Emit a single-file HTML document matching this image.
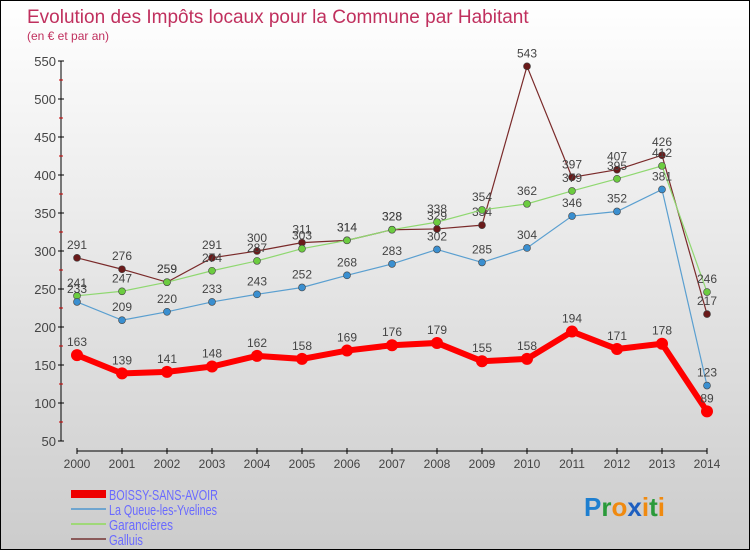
<!DOCTYPE html>
<html><head><meta charset="utf-8"><style>
body{margin:0}
#c{width:748px;height:548px;border:1px solid #000;background:linear-gradient(#fff,#ccc);position:relative;overflow:hidden;font-family:"Liberation Sans",sans-serif}
</style></head><body>
<div id="c">
<svg id="s" width="748" height="548" style="position:absolute;left:0;top:0">
<text x="26" y="22" font-size="19" fill="#c0305e">Evolution des Impôts locaux pour la Commune par Habitant</text>
<text x="26" y="39" font-size="12" fill="#c0305e">(en € et par an)</text>
<g id="axes"></g><g id="series"></g>
<g font-size="15" fill="#6a6aff">
<rect x="70" y="489" width="35" height="8" fill="#e00"/>
<text x="108" y="499" textLength="109" lengthAdjust="spacingAndGlyphs">BOISSY-SANS-AVOIR</text>
<rect x="70" y="507" width="35" height="2" fill="#6fa5cf"/>
<text x="108" y="514" textLength="108" lengthAdjust="spacingAndGlyphs">La Queue-les-Yvelines</text>
<rect x="70" y="522" width="35" height="2" fill="#9fd878"/>
<text x="108" y="529" textLength="64" lengthAdjust="spacingAndGlyphs">Garancières</text>
<rect x="70" y="537" width="35" height="2" fill="#8a5a5a"/>
<text x="108" y="544" textLength="34" lengthAdjust="spacingAndGlyphs">Galluis</text>
</g>
<text x="583" y="515" font-size="26" font-weight="bold"><tspan fill="#1e7fd0">P</tspan><tspan fill="#2a9a3a">r</tspan><tspan fill="#f08a10">o</tspan><tspan fill="#1e5fc0">x</tspan><tspan fill="#f08a10">i</tspan><tspan fill="#2a9a3a">t</tspan><tspan fill="#f08a10">i</tspan></text>
</svg>
</div>
<script>
const years=[2000,2001,2002,2003,2004,2005,2006,2007,2008,2009,2010,2011,2012,2013,2014];
const yTicks=[50,100,150,200,250,300,350,400,450,500,550];
const boissy=[163,139,141,148,162,158,169,176,179,155,158,194,171,178,89];
const laqueue=[233,209,220,233,243,252,268,283,302,285,304,346,352,381,123];
const garancieres=[241,247,259,274,287,303,314,328,338,354,362,379,395,412,246];
const galluis=[291,276,259,291,300,311,314,328,329,334,543,397,407,426,217];
const NS='http://www.w3.org/2000/svg';
const X=i=>76+i*45, Y=v=>440-(v-50)*0.76;
function mk(t,a,p){const e=document.createElementNS(NS,t);for(const k in a)e.setAttribute(k,a[k]);p.appendChild(e);return e;}
const ax=document.getElementById('axes');
let l=mk('line',{x1:60,y1:60,x2:60,y2:440,stroke:'#000'},ax);


yTicks.forEach(v=>{mk('line',{x1:57,x2:63,y1:Y(v),y2:Y(v),stroke:'#000'},ax);
 if(v<550)mk('line',{x1:58,x2:62,y1:Y(v+25),y2:Y(v+25),stroke:'#c00'},ax);
 const t=mk('text',{x:55,y:Y(v)+5,'text-anchor':'end','font-size':13,fill:'#444'},ax);t.textContent=v;
 
 });
l=mk('line',{x1:76,y1:450,x2:706,y2:450,stroke:'#000'},ax);


years.forEach((y,i)=>{mk('line',{x1:X(i),x2:X(i),y1:447,y2:453,stroke:'#000'},ax);
 const t=mk('text',{x:X(i),y:467,'text-anchor':'middle','font-size':12,fill:'#444'},ax);t.textContent=y;
 
 });
const sg=document.getElementById('series');
[[galluis,'#7a2a2a','#6a1a1a',1.2,3.5,'galluis'],[garancieres,'#8fd870','#6ccc40',1.2,3.5,'garancieres'],[laqueue,'#5a9fd0','#3a8fd0',1.2,3.5,'laqueue'],[boissy,'#f00','#f00',6,6,'boissy']].forEach(([d,c,pc,w,r,n])=>{
 const g=mk('g',{},sg);
 
 
 mk('polyline',{points:d.map((v,i)=>X(i)+','+Y(v)).join(' '),fill:'none',stroke:c,'stroke-width':w},g);
 d.forEach((v,i)=>{const p=mk('circle',{cx:X(i),cy:Y(v),r:r,fill:pc,stroke:'#444','stroke-width':n=='boissy'?0:0.6},g);
  
  
  const t=mk('text',{x:X(i),y:Y(v)-9,'text-anchor':'middle','font-size':12,fill:'#444'},g);t.textContent=v;
  
  });
});
</script>
</body></html>
